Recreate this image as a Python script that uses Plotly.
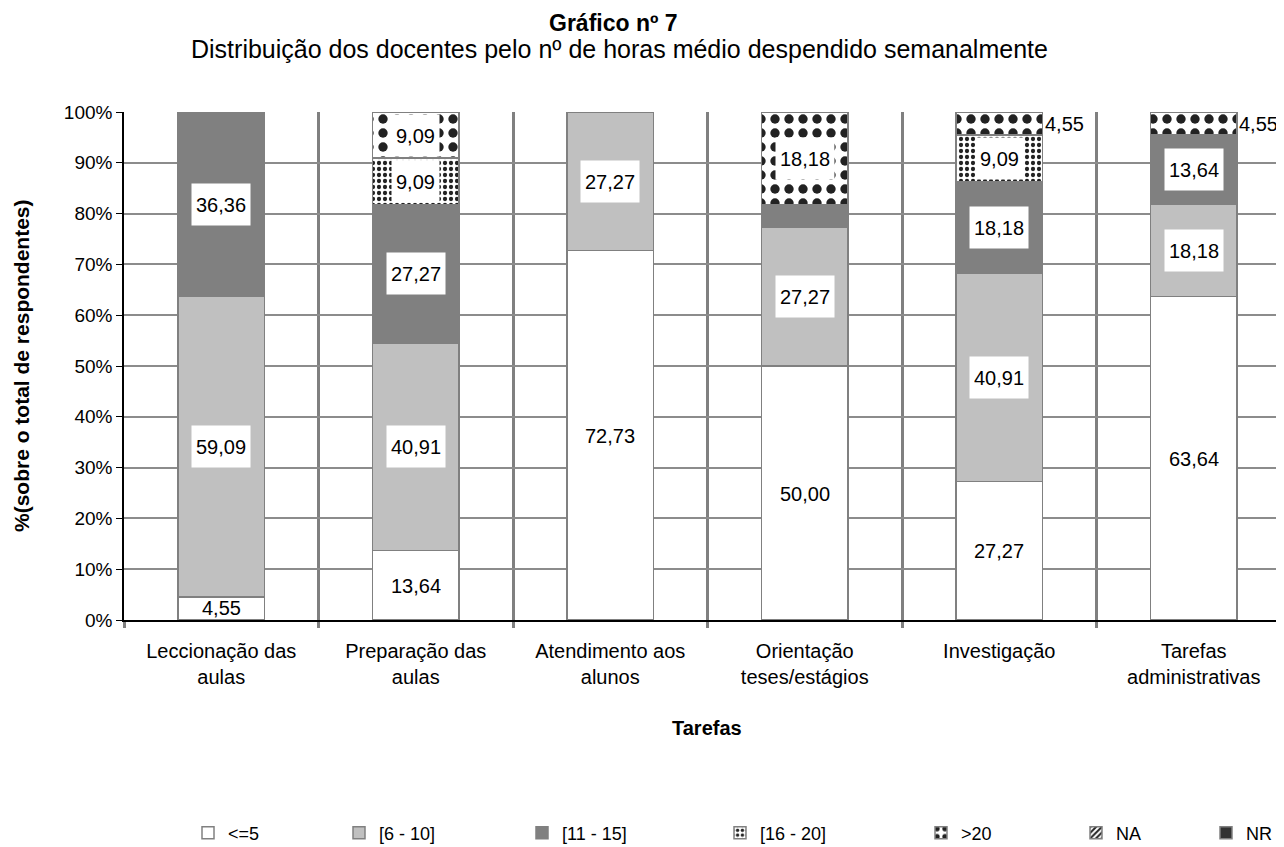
import plotly.graph_objects as go

categories = ["Leccionação das<br>aulas", "Preparação das<br>aulas", "Atendimento aos<br>alunos",
              "Orientação<br>teses/estágios", "Investigação", "Tarefas<br>administrativas"]
series_names = ["<=5", "[6 - 10]", "[11 - 15]", "[16 - 20]", ">20", "NA", "NR"]
v_le5 = [4.55, 13.64, 72.73, 50.00, 27.27, 63.64]
v_6_10 = [59.09, 40.91, 27.27, 27.27, 40.91, 18.18]
v_11_15 = [36.36, 27.27, 0, 4.55, 18.18, 13.64]
v_16_20 = [0, 9.09, 0, 0, 9.09, 0]
v_gt20 = [0, 9.09, 0, 18.18, 4.55, 4.55]
v_na = [None] * 6
v_nr = [None] * 6
series_values = [v_le5, v_6_10, v_11_15, v_16_20, v_gt20, v_na, v_nr]
y_ticks = list(range(0, 101, 10))
y_ticklabels = [f"{t}%" for t in y_ticks]

FONT = "Liberation Sans, Arial, sans-serif"
styles = [
    dict(color="white"),
    dict(color="#C0C0C0"),
    dict(color="#808080"),
    dict(color="white", pattern=dict(shape=".", fgcolor="#222222", bgcolor="white", fgopacity=1,
                                     size=6, solidity=0.4)),
    dict(color="white", pattern=dict(shape=".", fgcolor="#222222", bgcolor="white", fgopacity=1,
                                     size=14, solidity=0.35)),
    dict(color="white", pattern=dict(shape="/", fgcolor="#222222", bgcolor="white", fgopacity=1,
                                     size=5, solidity=0.5)),
    dict(color="#333333"),
]

# page offset (browser body margin)
OFF = 8
W, H = 1284 - OFF, 847 - OFF
PL, PT, PB = 124 - OFF, 112 - OFF, 620 - OFF
ph = PB - PT
pw = W - PL

def px_x(x):
    return (x - OFF - PL) / pw

def px_y(y):
    return (PB - (y - OFF)) / ph

legend_sym_x = [208, 359, 542, 740, 941, 1096, 1226]

fig = go.Figure()
legend_layouts = {}
for j, (name, vals, st) in enumerate(zip(series_names, series_values, styles)):
    y = [v if (v is not None and v > 0) else None for v in vals]
    lg = "legend" if j == 0 else f"legend{j + 1}"
    fig.add_trace(go.Bar(x=categories, y=y, name=name, legend=lg,
                         marker=dict(line=dict(color="#808080", width=1.5), **st),
                         hoverinfo="skip"))
    legend_layouts[lg] = dict(orientation="h", x=px_x(legend_sym_x[j] - 20), y=px_y(833),
                              xanchor="left", yanchor="middle", bgcolor="rgba(0,0,0,0)",
                              font=dict(family=FONT, size=18, color="black"))

BAR_FRAC = 0.447
LBL = dict(family=FONT, size=20, color="black")
annotations = []
data_series = series_values[:5]
for i, cat in enumerate(categories):
    cum = 0
    nonzero = [k for k in range(5) if data_series[k][i] > 0]
    for k in range(5):
        v = data_series[k][i]
        if v <= 0:
            continue
        mid = cum + v / 2
        txt = f"{v:.2f}".replace(".", ",")
        if v < 5:
            if k == nonzero[-1]:
                annotations.append(dict(x=i + BAR_FRAC / 2, y=mid, xref="x", yref="y", text=txt,
                                        showarrow=False, xanchor="left", yanchor="middle", font=LBL))
            elif k == nonzero[0]:
                annotations.append(dict(x=i, y=mid, xref="x", yref="y", text=txt,
                                        showarrow=False, xanchor="center", yanchor="middle", font=LBL))
        else:
            annotations.append(dict(x=i, y=mid, xref="x", yref="y", text=txt,
                                    showarrow=False, xanchor="center", yanchor="middle",
                                    bgcolor="white", borderpad=4, height=33, font=LBL))
        cum += v

annotations += [
    dict(text="<b>Gráfico nº 7</b>", x=px_x(613), y=px_y(23), xref="paper", yref="paper",
         showarrow=False, xanchor="center", yanchor="middle", font=dict(family=FONT, size=23, color="black")),
    dict(text="Distribuição dos docentes pelo nº de horas médio despendido semanalmente",
         x=px_x(619), y=px_y(49), xref="paper", yref="paper",
         showarrow=False, xanchor="center", yanchor="middle", font=dict(family=FONT, size=25, color="black")),
    dict(text="<b>Tarefas</b>", x=px_x(707), y=px_y(728), xref="paper", yref="paper",
         showarrow=False, xanchor="center", yanchor="middle", font=dict(family=FONT, size=20, color="black")),
    dict(text="<b>%(sobre o total de respondentes)</b>", x=px_x(21), y=px_y(366), xref="paper", yref="paper",
         showarrow=False, xanchor="center", yanchor="middle", textangle=-90,
         font=dict(family=FONT, size=21, color="black")),
]

fig.update_layout(
    width=W, height=H,
    margin=dict(l=PL, r=0, t=PT, b=H - PB, pad=0, autoexpand=False),
    barmode="stack", bargap=1 - BAR_FRAC,
    plot_bgcolor="white", paper_bgcolor="white",
    font=dict(family=FONT, size=20, color="black"),
    annotations=annotations,
    showlegend=True,
    **legend_layouts,
)
fig.update_xaxes(type="category", range=[-0.5, 5.5 - 7 / 194.6],
                 tickson="boundaries", showgrid=True, gridcolor="#808080", gridwidth=3,
                 ticks="outside", ticklen=6, tickcolor="#808080", tickwidth=3,
                 ticklabelstandoff=12,
                 showline=True, linecolor="black", linewidth=1.5, zeroline=False,
                 tickfont=dict(family=FONT, size=20, color="black"))
fig.update_yaxes(range=[0, 100], tickvals=y_ticks, ticktext=y_ticklabels,
                 showgrid=True, gridcolor="#8c8c8c", gridwidth=1.5,
                 ticks="outside", ticklen=6, tickcolor="black",
                 showline=True, linecolor="black", linewidth=1.5, zeroline=False,
                 tickfont=dict(family=FONT, size=19, color="black"))

fig.write_html("out.html")
